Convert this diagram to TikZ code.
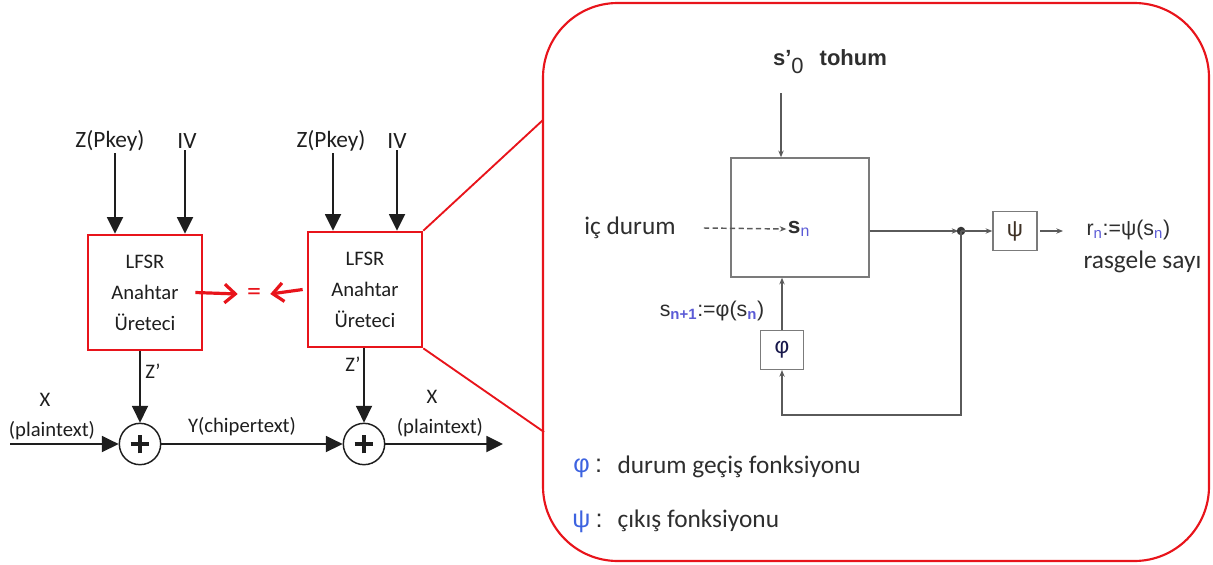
\documentclass[tikz,border=0pt]{standalone}
\usepackage{fontspec}
\setmainfont{Carlito}
\newfontfamily\arialf{Liberation Sans}
\usetikzlibrary{arrows.meta}
\definecolor{ink}{HTML}{1E1E1E}
\definecolor{wirec}{HTML}{5A5A5A}
\definecolor{txt}{HTML}{2E2E2E}
\definecolor{hl}{HTML}{E8141B}
\definecolor{idx}{HTML}{5B5BD6}
\definecolor{greek}{HTML}{3D63E0}
\begin{document}
\begin{tikzpicture}[x=0.75pt,y=-0.75pt,
  lbl/.style={text=ink, font=\fontsize{17.5}{20}\selectfont, inner sep=1pt},
  small/.style={text=ink, font=\fontsize{15.5}{18}\selectfont, inner sep=1pt},
  keybox/.style={draw=hl, line width=2pt, fill=white, minimum width=85.5pt,
    minimum height=86.25pt, align=center, text=ink, font=\fontsize{15.5}{23.25}\selectfont},
  xor/.style={draw=ink, line width=1.1pt, circle, minimum size=31pt, inner sep=0pt},
  blk/.style={draw=ink, line width=1.4pt, -{Triangle[length=12.5pt,width=12pt]}},
  redarr/.style={draw=hl, line width=2.4pt, -{Straight Barb[length=8pt,width=14pt]}},
  redline/.style={draw=hl, line width=1.4pt},
  wire/.style={draw=wirec, line width=1.1pt},
  warr/.style={wire, -{Stealth[length=5pt,width=4pt]}},
  gbox/.style={draw=wirec!80, line width=1.1pt, fill=white},
  rtxt/.style={text=txt, font=\fontsize{19}{22}\selectfont, inner sep=1pt},
  atxt/.style={text=txt, font=\arialf\fontsize{16}{19}\selectfont, inner sep=1pt}
]
\useasboundingbox (0,0) rectangle (1213,564);

% ---------- sender side ----------
\node[lbl] (zp1) at (110,141) {Z(Pkey)};
\node[lbl] (iv1) at (187,141) {IV};
\node[keybox] (k1) at (145,292.5) {LFSR\\Anahtar\\Üreteci};
\draw[blk] ([xshift=3.75pt]zp1.south) -- ([xshift=3.75pt]zp1.south |- k1.north);
\draw[blk] ([xshift=-1.5pt]iv1.south) -- ([xshift=-1.5pt]iv1.south |- k1.north);

\node[xor] (c1) at (140,444) {};
\coordinate (in1) at (10,444);
\draw[blk] (in1) -- (c1.west);
\draw[blk] (k1.south -| c1) -- (c1.north);
\node[small] (zz1) at (153,371) {Z’};
\node[small] (x1) at (45,400) {X};
\node[small] (p1) at (52,431) {(plaintext)};

% ---------- receiver side ----------
\node[lbl] (zp2) at (331,141) {Z(Pkey)};
\node[lbl] (iv2) at (397,141) {IV};
\node[keybox] (k2) at (365,289.5) {LFSR\\Anahtar\\Üreteci};
\draw[blk] ([xshift=1.5pt]zp2.south) -- ([xshift=1.5pt]zp2.south |- k2.north);
\draw[blk] (iv2.south) -- (iv2.south |- k2.north);

\node[xor] (c2) at (364,444) {};
\draw[blk] (c1.east) -- (c2.west);
\draw[blk] (k2.south -| c2) -- (c2.north);
\node[small] (y1) at (242,427) {Y(chipertext)};
\node[small] (zz2) at (353,364) {Z’};
\coordinate (out1) at (503,444);
\draw[blk] (c2.east) -- (out1);
\node[small] (x2) at (432,397) {X};
\node[small] (p2) at (440,428) {(plaintext)};

% plus signs of the XOR gates
\foreach \c in {c1,c2}{
  \draw[ink, line width=2.4pt] ([xshift=-7pt]\c.center) -- ([xshift=7pt]\c.center);
  \draw[ink, line width=2.4pt] ([yshift=-7pt]\c.center) -- ([yshift=7pt]\c.center);
}

% equality of both generators
\node[text=hl, font=\fontsize{21}{22}\selectfont, minimum width=24pt, inner sep=0pt] (eq) at (254,294) {=};
\draw[redarr] ([xshift=-6pt]k1.east) -- (eq.west);
\draw[redarr] ([xshift=-3pt]k2.west) -- (eq.east);

% ---------- detail panel ----------
\node[draw=hl, line width=1.6pt, rounded corners=56pt, minimum width=499.5pt,
  minimum height=418.5pt, inner sep=0pt] (zoom) at (876,282) {};
\coordinate (z1) at (543,120);
\coordinate (z2) at (544,432);
\draw[redline] (k2.north east) -- (z1);
\draw[redline] (k2.south east) -- (z2);

\node[text=txt, font=\arialf\bfseries\fontsize{16.5}{19}\selectfont, inner sep=1pt]
  (seed) at (830,62) {s’\raisebox{-6pt}{\mdseries 0}\hspace{12pt}tohum};
\node[gbox, minimum width=103.5pt, minimum height=89.25pt] (sb) at (800,217.5) {};
\coordinate (seedfoot) at (781,93);
\draw[warr] (seedfoot) -- (seedfoot |- sb.north);

\node[rtxt] (ic) at (630,228) {iç durum};
\node[text=txt, font=\arialf\bfseries\fontsize{17}{19}\selectfont, inner sep=1pt]
  (sn) at (799,229) {s\textsubscript{\textcolor{idx}{\mdseries n}}};
\draw[warr, dashed, dash pattern=on 4pt off 2.5pt] ([xshift=20pt]ic.east) -- (sn.west);

\coordinate (dot) at (961,231);
\node[gbox, minimum width=33pt, minimum height=29pt, inner sep=0pt,
  font=\arialf\fontsize{17}{19}\selectfont, text=ink!80!brown] (psi) at (1015,231) {ψ};
\draw[warr] (sb.east |- dot) -- ([xshift=-2pt]dot);
\fill[wirec!60!black] (dot) circle (3.2pt);
\draw[warr, line width=1.6pt] (dot) -- (psi.west);
\coordinate (rout) at (1063,231);
\draw[warr, line width=1.8pt] ([xshift=2pt]psi.east) -- (rout);
\node[atxt, anchor=west] (rn) at (1085,230)
  {r\textsubscript{\textcolor{idx}{n}}:=ψ(s\textsubscript{\textcolor{idx}{n}})};
\begin{scope}
  \clip[rounded corners=56pt] (zoom.south west) rectangle (zoom.north east);
  \node[rtxt, anchor=west] (rs) at (1082,262) {rasgele sayı};
\end{scope}

\node[gbox, minimum width=32pt, minimum height=29pt, inner sep=0pt,
  font=\arialf\fontsize{17}{19}\selectfont, text=ink!80!blue] (phi) at (782,350) {φ};
\draw[warr] (phi.north) -- (phi.north |- sb.south);
\coordinate (fb) at (782,415);
\draw[warr] (dot) -- (dot |- fb) -| (phi.south);
\node[atxt] (upd) at (712,311)
  {s\textsubscript{\textcolor{idx}{\bfseries n+1}}:=φ(s\textsubscript{\textcolor{idx}{\bfseries n}})};

% legend
\node[anchor=west, inner sep=0pt, font=\arialf\fontsize{19}{22}\selectfont] (lg1) at (573,468)
  {\textcolor{greek}{φ}\hspace{4pt}\textcolor{txt}{:}};
\node[rtxt, anchor=west] (d1) at (616,467) {durum geçiş fonksiyonu};
\node[anchor=west, inner sep=0pt, font=\arialf\fontsize{19}{22}\selectfont] (lg2) at (572,522)
  {\textcolor{greek}{ψ}\hspace{4pt}\textcolor{txt}{:}};
\node[rtxt, anchor=west] (d2) at (616,521) {çıkış fonksiyonu};
\end{tikzpicture}
\end{document}
